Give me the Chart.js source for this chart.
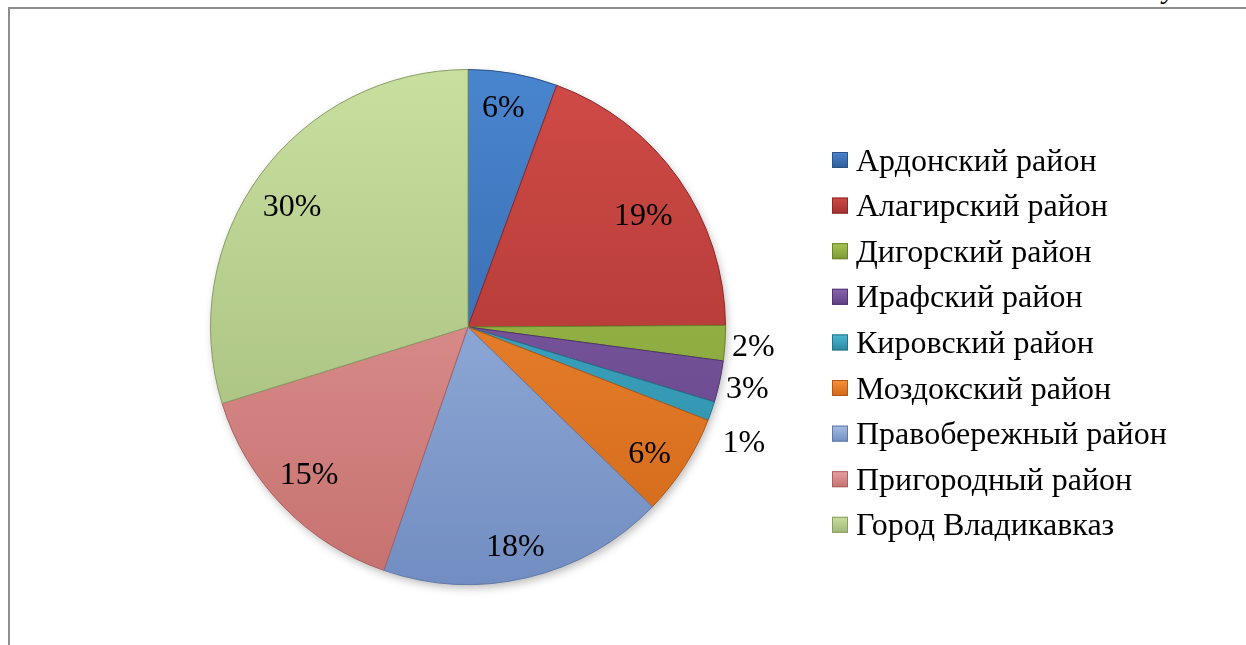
<!DOCTYPE html>
<html>
<head>
<meta charset="utf-8">
<script src="https://cdn.jsdelivr.net/npm/chart.js@4.4.1/dist/chart.umd.min.js"></script>
<style>
    html, body { margin: 0; padding: 0; background: #fff; overflow: hidden; }
    #wrap { position: relative; width: 1246px; height: 645px; overflow: hidden; }
    #frame {
        position: absolute; left: 8px; top: 7px; width: 1250px; height: 650px;
        border-top: 2px solid #8e8e8e; border-left: 2px solid #8e8e8e;
    }
    #cap {
        position: absolute; right: 6px; top: -28px; line-height: 28px;
        font: italic 29px "Liberation Serif", "Times New Roman", serif; color: #000;
    }
    canvas { position: absolute; left: 0; top: 0; }
</style>
</head>
<body>
<div id="wrap">
    <div id="frame"></div>
    <div id="cap">Рисунок 3</div>
    <canvas id="pie" width="1246" height="645"></canvas>
</div>
<script>
// districts, clockwise from 12 o'clock
const districts = [
    'Ардонский район',
    'Алагирский район',
    'Дигорский район',
    'Ирафский район',
    'Кировский район',
    'Моздокский район',
    'Правобережный район',
    'Пригородный район',
    'Город Владикавказ'
];
const shares = [5.6, 19.3, 2.2, 2.6, 1.2, 6.4, 18.0, 14.9, 29.8];
const shareLabels = ['6%', '19%', '2%', '3%', '1%', '6%', '18%', '15%', '30%'];

// light (top) / dark (bottom) tones of each slice
const topColors = ['#4985cf', '#d04b47', '#a6c653', '#8a66b0', '#4cb8d4', '#f6923c', '#a5bee6', '#e6a2a0', '#c8df9f'];
const bottomColors = ['#2f5e9c', '#a3302d', '#7b9833', '#5f3e82', '#2988a3', '#d16718', '#728dc1', '#c6716f', '#9fb777'];
const edgeColors = ['#2a5285', '#8a2826', '#6a822c', '#4f346d', '#23748a', '#b05814', '#6179a6', '#a96160', '#879d65'];

const SERIF = '"Liberation Serif", "Times New Roman", serif';

function sliceFill(context) {
    const chart = context.chart;
    const area = chart.chartArea;
    if (!area) return topColors[context.dataIndex];
    const g = chart.ctx.createLinearGradient(0, area.top, 0, area.bottom);
    g.addColorStop(0, topColors[context.dataIndex]);
    g.addColorStop(1, bottomColors[context.dataIndex]);
    return g;
}

const pieShadow = {
    id: 'pieShadow',
    beforeDatasetsDraw(chart) {
        const arc = chart.getDatasetMeta(0).data[0];
        if (!arc) return;
        const ctx = chart.ctx;
        ctx.save();
        ctx.shadowColor = 'rgba(0,0,0,0.3)';
        ctx.shadowBlur = 10;
        ctx.shadowOffsetX = 2;
        ctx.shadowOffsetY = 4;
        ctx.fillStyle = '#fff';
        ctx.beginPath();
        ctx.arc(arc.x, arc.y, arc.outerRadius - 1, 0, Math.PI * 2);
        ctx.fill();
        ctx.restore();
    }
};

const sliceLabels = {
    id: 'sliceLabels',
    afterDatasetsDraw(chart, args, opts) {
        const ctx = chart.ctx;
        const meta = chart.getDatasetMeta(0);
        ctx.save();
        ctx.font = opts.size + 'px ' + SERIF;
        ctx.fillStyle = '#000';
        ctx.textAlign = 'center';
        ctx.textBaseline = 'alphabetic';
        meta.data.forEach((arc, i) => {
            const p = arc.getProps(['x', 'y', 'startAngle', 'endAngle', 'outerRadius'], true);
            const nudge = opts.nudge[i] || {};
            const mid = (p.startAngle + p.endAngle) / 2 + (nudge.da || 0) * Math.PI / 180;
            const f = nudge.r || (shares[i] < 3 ? opts.outside : opts.inside);
            const x = p.x + Math.cos(mid) * p.outerRadius * f;
            const y = p.y + Math.sin(mid) * p.outerRadius * f;
            ctx.fillText(shareLabels[i], x, y + opts.size * 0.33);
        });
        ctx.restore();
    }
};

const sideLegend = {
    id: 'sideLegend',
    afterDraw(chart, args, opts) {
        const ctx = chart.ctx;
        ctx.save();
        ctx.font = opts.size + 'px ' + SERIF;
        ctx.textBaseline = 'alphabetic';
        ctx.textAlign = 'left';
        districts.forEach((name, i) => {
            const y = opts.top + i * opts.step;
            const bx = opts.left, by = y - opts.box / 2;
            const g = ctx.createLinearGradient(0, by, 0, by + opts.box);
            g.addColorStop(0, topColors[i]);
            g.addColorStop(1, bottomColors[i]);
            ctx.fillStyle = g;
            ctx.fillRect(bx, by, opts.box, opts.box);
            ctx.strokeStyle = edgeColors[i];
            ctx.lineWidth = 1;
            ctx.strokeRect(bx + 0.5, by + 0.5, opts.box - 1, opts.box - 1);
            ctx.fillStyle = '#000';
            ctx.fillText(name, bx + opts.box + 8, y + opts.size * 0.33);
        });
        ctx.restore();
    }
};

new Chart(document.getElementById('pie'), {
    type: 'pie',
    data: {
        labels: districts,
        datasets: [{
            data: shares,
            backgroundColor: sliceFill,
            borderColor: edgeColors,
            borderWidth: 1
        }]
    },
    options: {
        responsive: false,
        animation: false,
        layout: { padding: { left: 210, right: 520, top: 69, bottom: 60 } },
        plugins: {
            legend: { display: false },
            tooltip: { enabled: false },
            sliceLabels: {
                size: 32,
                inside: 0.85,
                outside: 1.11,
                nudge: {
                    0: { da: -1, r: 0.867 },
                    1: { da: 2.3, r: 0.81 },
                    4: { da: 3.5, r: 1.16 },
                    5: { da: 1.8, r: 0.856 },
                    6: { da: 1.1, r: 0.868 },
                    7: { da: 1.4, r: 0.84 },
                    8: { da: -1.8, r: 0.83 }
                }
            },
            sideLegend: {
                size: 32,
                left: 832,
                top: 160,
                step: 45.6,
                box: 16
            }
        }
    },
    plugins: [pieShadow, sliceLabels, sideLegend]
});
</script>
</body>
</html>
